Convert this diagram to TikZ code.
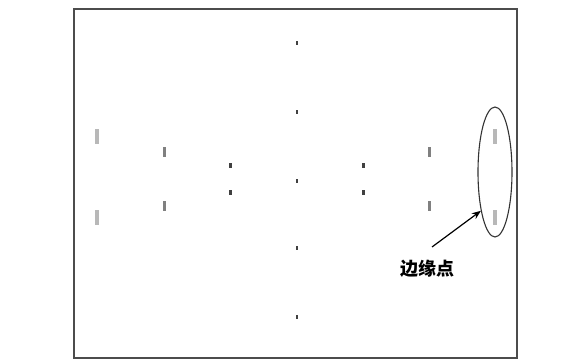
\documentclass[tikz,border=0pt]{standalone}
\usepackage{fontspec}
\newfontfamily\cjk{Noto Sans CJK SC}
\usetikzlibrary{arrows.meta,shapes.geometric}
\begin{document}
\begin{tikzpicture}[x=1pt,y=-1pt,
  mk/.style={rectangle,inner sep=0pt,outer sep=0pt,draw=none},
  outer/.style={mk,fill=black!28,minimum width=3.5pt,minimum height=15pt},
  second/.style={mk,fill=black!50,minimum width=3pt,minimum height=10pt},
  third/.style={mk,fill=black!75,minimum width=3pt,minimum height=5pt},
  center/.style={mk,fill=black!75,minimum width=2.5pt,minimum height=4.5pt},
  frame/.style={draw=black!70,line width=1.4pt},
  ring/.style={draw=black!80,line width=1.1pt},
  pointer/.style={draw=black,line width=1.2pt,-{Stealth[length=9pt,width=7pt]}}]
\useasboundingbox (0,0) rectangle (579,363);
\fill[white] (0,0) rectangle (579,363);
\draw[frame] (74,9) rectangle (517,358);
% centre column
\node[center] (c1) at (297,43) {};
\node[center] (c2) at (297,112) {};
\node[center] (c3) at (297,181) {};
\node[center] (c4) at (297,248) {};
\node[center] (c5) at (297,317) {};
% left side
\node[outer] (lo1) at (97,137) {};
\node[outer] (lo2) at (97,218) {};
\node[second] (ls1) at (164,152) {};
\node[second] (ls2) at (164,206) {};
\node[third] (lt1) at (230,166) {};
\node[third] (lt2) at (230,193) {};
% right side
\node[third] (rt1) at (363,166) {};
\node[third] (rt2) at (363,193) {};
\node[second] (rs1) at (429,152) {};
\node[second] (rs2) at (429,206) {};
\node[outer] (ro1) at (495,137) {};
\node[outer] (ro2) at (495,218) {};
% ellipse around edge points
\node[ring,ellipse,minimum width=34pt,minimum height=130pt,inner sep=0pt] (edge) at (495,172) {};
% label and arrow
\node[font=\cjk\bfseries\fontsize{18}{18}\selectfont] (lbl) at (427,269) {边缘点};
\coordinate (tail) at (432,247);
\draw[pointer] (tail) -- (edge.250);
\end{tikzpicture}
\end{document}
